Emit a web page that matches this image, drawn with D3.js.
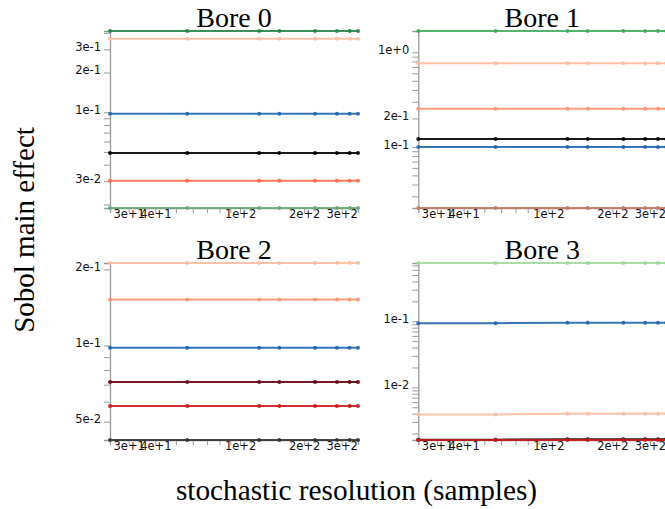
<!DOCTYPE html>
<html><head><meta charset="utf-8">
<script src="https://cdn.jsdelivr.net/npm/d3@7"></script>
<style>body{margin:0;background:#fff}svg{display:block}</style>
</head><body>
<svg id="chart" width="665" height="509"></svg>
<script>
// ---- data ----
const samples = [24.5, 56.5, 123, 153, 225, 285, 327, 358];
const panelNames = ["Bore 0", "Bore 1", "Bore 2", "Bore 3"];
const xLabelTicks = [30, 40, 100, 200, 300];

// Bore 0 series
const b0Colors = ["#23844a", "#fcbba1", "#2166ac", "#000000", "#fb6a4a", "#6aa876"];
const b0Values = [
  [0.413, 0.413, 0.413, 0.413, 0.413, 0.413, 0.413, 0.413],
  [0.361, 0.361, 0.361, 0.361, 0.361, 0.361, 0.361, 0.361],
  [0.0973, 0.0973, 0.0973, 0.0973, 0.0973, 0.0973, 0.0973, 0.0973],
  [0.049, 0.049, 0.049, 0.049, 0.049, 0.049, 0.049, 0.049],
  [0.0302, 0.0302, 0.0302, 0.0302, 0.0302, 0.0302, 0.0302, 0.0302],
  [0.0188, 0.0188, 0.0188, 0.0188, 0.0188, 0.0188, 0.0188, 0.0188]
];
const b0YLabels = [0.3, 0.2, 0.1, 0.03];

// Bore 1 series
const b1Colors = ["#41ab5d", "#fcbba1", "#fc9272", "#000000", "#2166ac", "#c47866"];
const b1Values = [
  [1.68, 1.68, 1.68, 1.68, 1.68, 1.68, 1.68, 1.68],
  [0.765, 0.765, 0.765, 0.765, 0.765, 0.765, 0.765, 0.765],
  [0.253, 0.253, 0.253, 0.253, 0.253, 0.253, 0.253, 0.253],
  [0.121, 0.121, 0.121, 0.121, 0.121, 0.121, 0.121, 0.121],
  [0.100, 0.100, 0.100, 0.100, 0.100, 0.100, 0.100, 0.100],
  [0.0226, 0.0226, 0.0226, 0.0226, 0.0226, 0.0226, 0.0226, 0.0226]
];
const b1YLabels = [1, 0.2, 0.1];

// Bore 2 series
const b2Colors = ["#fcbba1", "#fc9272", "#2166ac", "#67000d", "#cb181d", "#333333"];
const b2Values = [
  [0.212, 0.212, 0.212, 0.212, 0.212, 0.212, 0.212, 0.212],
  [0.152, 0.152, 0.152, 0.152, 0.152, 0.152, 0.152, 0.152],
  [0.098, 0.098, 0.098, 0.098, 0.098, 0.098, 0.098, 0.098],
  [0.0718, 0.0718, 0.0718, 0.0718, 0.0718, 0.0718, 0.0718, 0.0718],
  [0.0577, 0.0577, 0.0577, 0.0577, 0.0577, 0.0577, 0.0577, 0.0577],
  [0.0423, 0.0423, 0.0423, 0.0423, 0.0423, 0.0423, 0.0423, 0.0423]
];
const b2YLabels = [0.2, 0.1, 0.05];

// Bore 3 series
const b3Colors = ["#a1d99b", "#2166ac", "#fcbba1", "#000000", "#cb181d"];
const b3Values = [
  [0.76, 0.76, 0.76, 0.76, 0.76, 0.76, 0.76, 0.76],
  [0.0935, 0.0935, 0.095, 0.095, 0.095, 0.095, 0.095, 0.095],
  [0.0039, 0.0039, 0.004, 0.004, 0.004, 0.004, 0.004, 0.004],
  [0.00162, 0.00162, 0.00164, 0.00164, 0.00164, 0.00164, 0.00164, 0.00164],
  [0.0016, 0.0016, 0.0016, 0.0016, 0.0016, 0.0016, 0.0016, 0.0016]
];
const b3YLabels = [0.1, 0.01];

const panelColors = [b0Colors, b1Colors, b2Colors, b3Colors];
const panelValues = [b0Values, b1Values, b2Values, b3Values];
const panelYLabels = [b0YLabels, b1YLabels, b2YLabels, b3YLabels];

// ---- layout ----
const W = 248, H = 177, left0 = 110, top0 = 31, stepX = 308.3, stepY = 232;
const fmt = d3.format(".0e");
const near = (a, b) => Math.abs(a / b - 1) < 1e-6;

const svg = d3.select("#chart");

panelNames.forEach((name, i) => {
  const g = svg.append("g")
    .attr("transform", `translate(${left0 + (i % 2) * stepX},${top0 + Math.floor(i / 2) * stepY})`);
  const x = d3.scaleLog().domain(d3.extent(samples)).range([0, W]);
  const vals = panelValues[i];
  const y = d3.scaleLog().domain(d3.extent(vals.flat())).range([H, 0]);

  const xa = g.append("g").attr("transform", `translate(0,${H})`)
    .call(d3.axisBottom(x).tickValues(x.ticks())
      .tickFormat(d => xLabelTicks.some(v => near(d, v)) ? fmt(d) : "")
      .tickSize(5).tickSizeOuter(5));
  const ya = g.append("g")
    .call(d3.axisLeft(y).tickValues(y.ticks())
      .tickFormat(d => panelYLabels[i].some(v => near(d, v)) ? fmt(d) : "")
      .tickSize(6).tickSizeOuter(6));
  [xa, ya].forEach(a => {
    a.select(".domain").attr("stroke", "#9a9a9a").attr("stroke-width", 1.3);
    a.selectAll(".tick line").attr("stroke", "#9a9a9a");
    a.selectAll("text").attr("fill", "#111")
      .style("font-family", "'DejaVu Sans', sans-serif").style("font-size", "11.5px");
  });
  xa.selectAll("text").attr("y", 1.5).attr("dy", "0.71em");
  ya.selectAll("text").attr("dy", "0.1em");

  const line = d3.line().x((d, k) => x(samples[k])).y(d => y(d));
  vals.forEach((s, j) => {
    const col = panelColors[i][j];
    g.append("path").datum(s).attr("d", line)
      .attr("fill", "none").attr("stroke", col).attr("stroke-width", 2).attr("opacity", 0.9);
    g.selectAll(null).data(s).enter().append("circle")
      .attr("cx", (d, k) => x(samples[k])).attr("cy", d => y(d)).attr("r", 2)
      .attr("fill", col).attr("opacity", 0.9);
  });

  g.append("text").attr("x", W / 2).attr("y", -4.5).attr("text-anchor", "middle")
    .style("font-family", "'Liberation Serif', serif").style("font-size", "28px")
    .text(name);
});

svg.append("text").attr("x", 356.5).attr("y", 500).attr("text-anchor", "middle")
  .style("font-family", "'Liberation Serif', serif").style("font-size", "29.3px")
  .text("stochastic resolution (samples)");
svg.append("text").attr("transform", "translate(34,230) rotate(-90)").attr("text-anchor", "middle")
  .style("font-family", "'Liberation Serif', serif").style("font-size", "29px")
  .text("Sobol main effect");
</script>
</body></html>
